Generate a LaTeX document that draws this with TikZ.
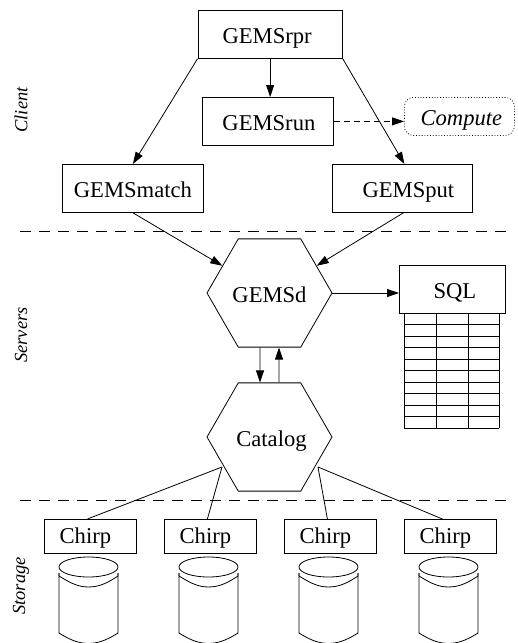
\documentclass[tikz,border=0pt]{standalone}
\usepackage{fontspec}
\setmainfont{Liberation Serif}
\usetikzlibrary{arrows.meta,shapes.geometric}
\tikzset{
  x=1pt,y=-1pt,
  every node/.style={font=\fontsize{22.6}{24}\selectfont,inner sep=0pt},
  box/.style={draw,line width=0.8pt,anchor=north west},
  hex/.style={draw,line width=0.8pt,regular polygon,regular polygon sides=6,minimum size=125pt},
  link/.style={line width=0.8pt},
  arr/.style={link,-{Triangle[length=12pt,width=8pt]}},
  sep/.style={line width=0.7pt,dash pattern=on 11pt off 8pt},
  layer/.style={rotate=90,font=\itshape\fontsize{18.5}{20}\selectfont},
  cyl/.style={line width=0.8pt,line join=round},
  grid/.style={line width=0.8pt}
}
\newcommand{\offs}[3][9.5]{\hspace*{#2pt}\raisebox{-#1pt}[0pt][0pt]{#3}}
\begin{document}
\begin{tikzpicture}
\useasboundingbox (0,0) rectangle (518,643);
\clip (0,0) rectangle (518,643);
% boxes
\node[box,minimum width=144.5pt,minimum height=48pt] (rpr) at (197.5,10) {\offs{-6}{GEMSrpr}};
\node[box,minimum width=131pt,minimum height=48pt] (run) at (202,97) {\offs{2}{GEMSrun}};
\node[draw,dotted,line width=0.8pt,rounded corners=9pt,anchor=north west,minimum width=110pt,minimum height=38pt,font=\itshape\fontsize{22.6}{24}\selectfont] (compute) at (404,97) {\offs{4}{Compute}};
\node[box,minimum width=141pt,minimum height=48pt] (match) at (62,164) {\offs{0}{GEMSmatch}};
\node[box,minimum width=140pt,minimum height=48pt] (put) at (332,164) {\offs{12}{GEMSput}};
\node[hex] (d) at (269.5,293) {\offs{0}{GEMSd}};
\node[hex] (cat) at (269.5,437) {\offs{4}{Catalog}};
\node[box,minimum width=106pt,minimum height=48pt] (sql) at (399,265) {\offs{5}{SQL}};
% chirps
\foreach \n/\xx in {c1/44,c2/164,c3/284,c4/404}{
  \node[box,minimum width=92pt,minimum height=34pt] (\n) at (\xx,519) {\offs[7]{-10}{Chirp}};
}
% table
\foreach \k in {0,...,10}{\draw[grid] (404,313+\k*11.5) -- (499,313+\k*11.5);}
\foreach \xx in {404,436,468,499}{\draw[grid] (\xx,313) -- (\xx,428);}
% cylinders
\foreach \xx in {59,179,299,419}{
  \begin{scope}[shift={(\xx,0)}]
    \draw[cyl] (29.5,567) ellipse [x radius=29.5pt,y radius=10pt];
    \draw[cyl] (0,573) -- (0,633) .. controls (8,638) and (18,643.5) .. (29.5,643.5) .. controls (41,643.5) and (51,638) .. (59,633) -- (59,573);
    \draw[cyl] (0,573) -- (0,576) .. controls (10,582) and (18,587) .. (29.5,587) .. controls (41,587) and (50,582) .. (59,576) -- (59,573);
  \end{scope}
}
% separators
\draw[sep] (20,231) -- (511,231);
\draw[sep] (20,500) -- (511,500);
% connectors
\draw[arr] (rpr.south west) -- (match.north);
\draw[arr] (rpr.south east) -- ([xshift=2pt]put.north);
\draw[arr] (rpr.south) -- (rpr.south |- run.north);
\draw[arr,dash pattern=on 6pt off 4pt] (run.east) -- (run.east -| compute.west);
\draw[arr] (match.south) -- (d.150);
\draw[arr] ([xshift=1pt]put.south) -- (d.30);
\draw[arr] (d.0) -- (d.0 -| sql.west);
\draw[arr] ([xshift=-9.5pt]d.south) -- ([xshift=-9.5pt]cat.north);
\draw[arr] ([xshift=9.5pt]cat.north) -- ([xshift=9.5pt]d.south);
\coordinate (catl) at (222,467);
\coordinate (catr) at (318,467);
\draw[link] (catl) -- ([xshift=-3pt]c1.north);
\draw[link] (catl) -- ([xshift=-3pt]c2.north);
\draw[link] (catr) -- ([xshift=-3pt]c3.north);
\draw[link] (catr) -- ([xshift=-8pt]c4.north);
% layer labels
\node[layer] (client) at (21,110) {Client};
\node[layer] (servers) at (21,335) {Servers};
\node[layer] (storage) at (21,586) {Storage};
\end{tikzpicture}
\end{document}
